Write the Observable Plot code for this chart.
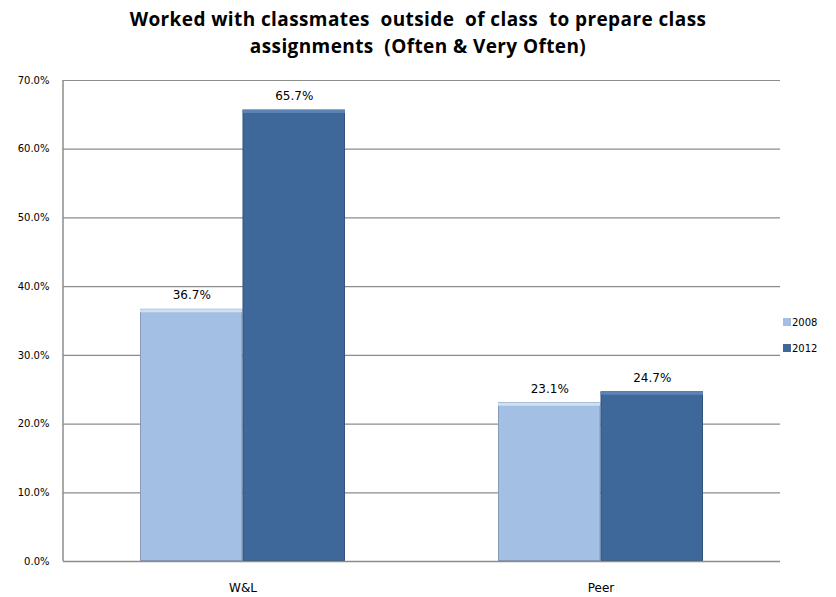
<!DOCTYPE html>
<html>
<head>
<meta charset="utf-8">
<script src="https://cdn.jsdelivr.net/npm/d3@7"></script>
<script src="https://cdn.jsdelivr.net/npm/@observablehq/plot@0.6"></script>
<style>
  body { margin: 0; background: #fff; }
  #wrap { position: relative; width: 836px; height: 597px; overflow: hidden; font-family: "DejaVu Sans", sans-serif; }
  #title { position: absolute; left: 0; top: 6px; width: 836px; text-align: center; font-family: "Open Sans", sans-serif; font-weight: 700; font-size: 19px; letter-spacing: 0.4px; line-height: 27px; color: #000; white-space: pre; }
  #chart { position: absolute; left: 0; top: 62px; }
  #legend { position: absolute; left: 783px; top: 309px; font-size: 10px; color: #000; }
  #legend div { display: flex; align-items: center; height: 26px; }
  #legend span.sw { display: inline-block; width: 8px; height: 8px; margin-right: 1px; }
</style>
</head>
<body>
<div id="wrap">
  <div id="title">Worked with classmates  outside  of class  to prepare class
assignments  (Often &amp; Very Often)</div>
  <div id="chart"></div>
  <div id="legend"></div>
</div>
<script>
const categories = ["W&L", "Peer"];
const years = ["2008", "2012"];
const values2008 = [36.7, 23.1];
const values2012 = [65.7, 24.7];
const yTicks = [0, 10, 20, 30, 40, 50, 60, 70];
const colors = ["#a3bfe4", "#3d6899"];
const highlight = ["#cfe0f5", "#5b84b5"];

const rows2008 = categories.map((c, i) => ({cat: c, year: years[0], value: values2008[i]}));
const rows2012 = categories.map((c, i) => ({cat: c, year: years[1], value: values2012[i]}));

const W = 836, H = 535, mL = 63, mR = 56, mT = 18, mB = 36;
const pInner = 0.428, pOuter = 0.214;
const step = (W - mL - mR) / (categories.length - pInner + 2 * pOuter);
const half = step * (1 - pInner) / 2;

function series(rows, i) {
  const insets = i === 0 ? {insetLeft: 0, insetRight: half} : {insetLeft: half, insetRight: 0};
  const shift = i === 0 ? -half / 2 : half / 2;
  return [
    Plot.barY(rows, {x: "cat", y: "value", fill: colors[i], ...insets}),
    Plot.barY(rows, {x: "cat", y: "value", fill: "none", stroke: "#00000030", strokeWidth: 1, insetTop: 0.5, insetBottom: 0.5,
      insetLeft: insets.insetLeft + 0.5, insetRight: insets.insetRight + 0.5}),
    Plot.tickY(rows, {x: "cat", y: "value", stroke: highlight[i], strokeWidth: 3, dy: 1.5, ...insets}),
    Plot.text(rows, {x: "cat", y: "value", text: d => d.value.toFixed(1) + "%", dx: shift, dy: -14, fontSize: 12, fill: "#000"})
  ];
}

const chart = Plot.plot({
  width: W,
  height: H,
  marginLeft: mL,
  marginRight: mR,
  marginTop: mT,
  marginBottom: mB,
  style: {fontFamily: "DejaVu Sans, sans-serif", fontSize: "10px", color: "#000", background: "#fff"},
  x: {domain: categories, paddingInner: pInner, paddingOuter: pOuter, axis: null},
  y: {domain: [0, 70], label: null, axis: null},
  marks: [
    Plot.gridY(yTicks, {stroke: "#8c8c8c", strokeOpacity: 1, strokeWidth: 1.2}),
    ...series(rows2008, 0),
    ...series(rows2012, 1),
    Plot.axisY(yTicks, {tickFormat: d => d.toFixed(1) + "%", tickSize: 0, tickPadding: 14, fontSize: 10, anchor: "left", label: null}),
    Plot.ruleY([0], {stroke: "#8c8c8c", strokeWidth: 1.5}),
    Plot.axisX({tickSize: 0, tickPadding: 22, fontSize: 12, label: null, anchor: "bottom"})
  ]
});

// vertical value-axis line drawn with the chart's own y scale
const ys = chart.scale("y");
d3.select(chart).append("line")
  .attr("x1", mL).attr("x2", mL)
  .attr("y1", ys.apply(0)).attr("y2", ys.apply(70))
  .attr("stroke", "#8c8c8c").attr("stroke-width", 1.5);

document.getElementById("chart").appendChild(chart);

const legend = document.getElementById("legend");
years.forEach((y, i) => {
  const row = document.createElement("div");
  const sw = document.createElement("span");
  sw.className = "sw";
  sw.style.background = colors[i];
  row.appendChild(sw);
  row.appendChild(document.createTextNode(y));
  legend.appendChild(row);
});
</script>
</body>
</html>
